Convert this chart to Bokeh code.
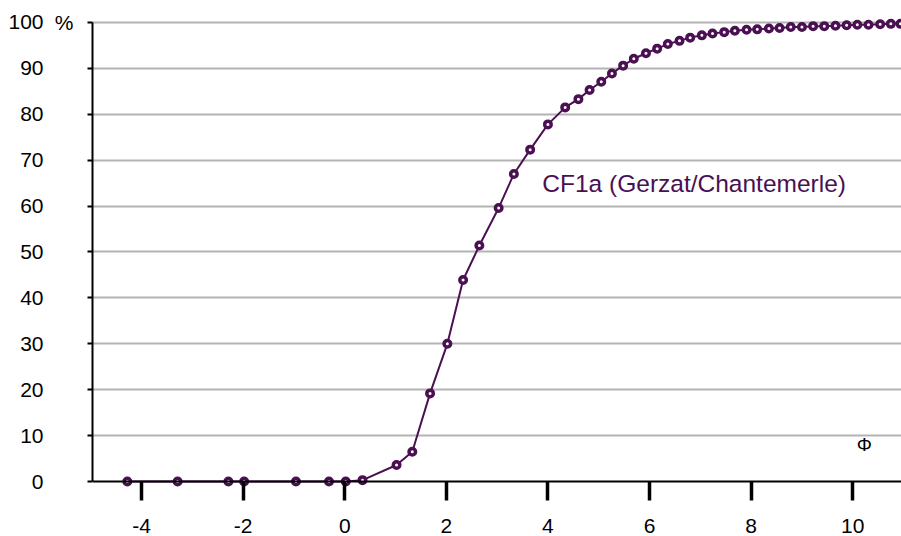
from bokeh.plotting import figure
from bokeh.models import Range1d, FixedTicker, Label, ColumnDataSource, LinearAxis
from bokeh.embed import file_html
from bokeh.resources import INLINE

# ---- data ----
phi = [-4.28, -3.29, -2.29, -1.98, -0.96, -0.31, 0.02, 0.35, 1.02, 1.33,
       1.68, 2.02, 2.33, 2.65, 3.03, 3.33, 3.65, 4.00, 4.34, 4.60,
       4.82, 5.05, 5.26, 5.48, 5.69, 5.93, 6.15, 6.36, 6.59, 6.80,
       7.03, 7.24, 7.47, 7.68, 7.91, 8.12, 8.35, 8.56, 8.78, 9.00,
       9.22, 9.44, 9.66, 9.88, 10.09, 10.31, 10.54, 10.75, 10.94]
cum_pct = [0.0, 0.0, 0.0, 0.0, 0.0, 0.0, 0.0, 0.3, 3.6, 6.5,
           19.2, 30.0, 43.9, 51.4, 59.6, 67.0, 72.3, 77.8, 81.5, 83.3,
           85.3, 87.1, 88.9, 90.6, 92.1, 93.3, 94.3, 95.3, 96.0, 96.7,
           97.2, 97.6, 97.9, 98.2, 98.4, 98.5, 98.7, 98.8, 99.0, 99.0,
           99.2, 99.2, 99.3, 99.4, 99.5, 99.5, 99.6, 99.7, 99.7]
x_ticks = [-4, -2, 0, 2, 4, 6, 8, 10]
x_tick_labels = ["-4", "-2", "0", "2", "4", "6", "8", "10"]
y_ticks = [0, 10, 20, 30, 40, 50, 60, 70, 80, 90, 100]
series_label = "CF1a (Gerzat/Chantemerle)"
x_unit = "Φ"
y_unit = "%"

PURPLE = "#4a1052"
FONT = "Liberation Sans"

src = ColumnDataSource(dict(x=phi, y=cum_pct))

p = figure(width=901, height=536, output_backend="svg", toolbar_location=None,
           x_range=Range1d(-4.965, 10.96), y_range=Range1d(-11.98, 104.79),
           min_border_left=92, min_border_right=0, min_border_top=0,
           min_border_bottom=0)
p.outline_line_color = None
p.background_fill_color = "white"
p.border_fill_color = "white"

p.xgrid.visible = False
p.ygrid.ticker = FixedTicker(ticks=y_ticks[1:])
p.ygrid.grid_line_color = "#b3b3b3"
p.ygrid.grid_line_width = 2

# x axis (drawn at y = 0)
xa = p.xaxis[0]
xa.ticker = FixedTicker(ticks=x_ticks)
xa.major_label_overrides = {t: s for t, s in zip(x_ticks, x_tick_labels)}
xa.fixed_location = 0
xa.axis_line_color = "black"
xa.axis_line_width = 2
xa.major_tick_in = 0
xa.major_tick_out = 19
xa.major_tick_line_width = 3.5
xa.major_tick_line_color = "black"
xa.minor_tick_line_color = None
xa.major_label_standoff = 18
xa.major_label_text_font = FONT
xa.major_label_text_font_size = "21px"
xa.major_label_text_color = "black"

# inner y axis: line, ticks and the unit sign next to 100
ya = p.yaxis[0]
ya.ticker = FixedTicker(ticks=y_ticks)
ya.bounds = (0, 100)
ya.major_label_overrides = {t: (y_unit if t == 100 else "") for t in y_ticks}
ya.axis_line_color = "black"
ya.axis_line_width = 2
ya.major_tick_in = 0
ya.major_tick_out = 5
ya.major_tick_line_width = 2
ya.major_tick_line_color = "black"
ya.minor_tick_line_color = None
ya.major_label_standoff = 14
ya.major_label_text_font = FONT
ya.major_label_text_font_size = "21px"
ya.major_label_text_color = "black"

# outer y axis: the numbers
ya2 = LinearAxis(ticker=FixedTicker(ticks=y_ticks))
ya2.axis_line_color = None
ya2.major_tick_line_color = None
ya2.minor_tick_line_color = None
ya2.major_tick_in = 0
ya2.major_tick_out = 0
ya2.major_label_standoff = 8
ya2.major_label_text_font = FONT
ya2.major_label_text_font_size = "21px"
ya2.major_label_text_color = "black"
p.add_layout(ya2, "left")

p.line("x", "y", source=src, line_color=PURPLE, line_width=2)
p.scatter("x", "y", source=src, size=6.5, marker="circle",
          fill_color="white", line_color=PURPLE, line_width=3.5)

p.add_layout(Label(x=3.89, y=64.9, text=series_label, text_font=FONT,
                   text_font_size="24.5px", text_color=PURPLE,
                   text_align="left", text_baseline="middle"))
p.add_layout(Label(x=10.23, y=8.05, text=x_unit, text_font=FONT,
                   text_font_size="19px", text_color="black",
                   text_align="center", text_baseline="middle"))

open("out.html", "w").write(file_html(p, INLINE))
